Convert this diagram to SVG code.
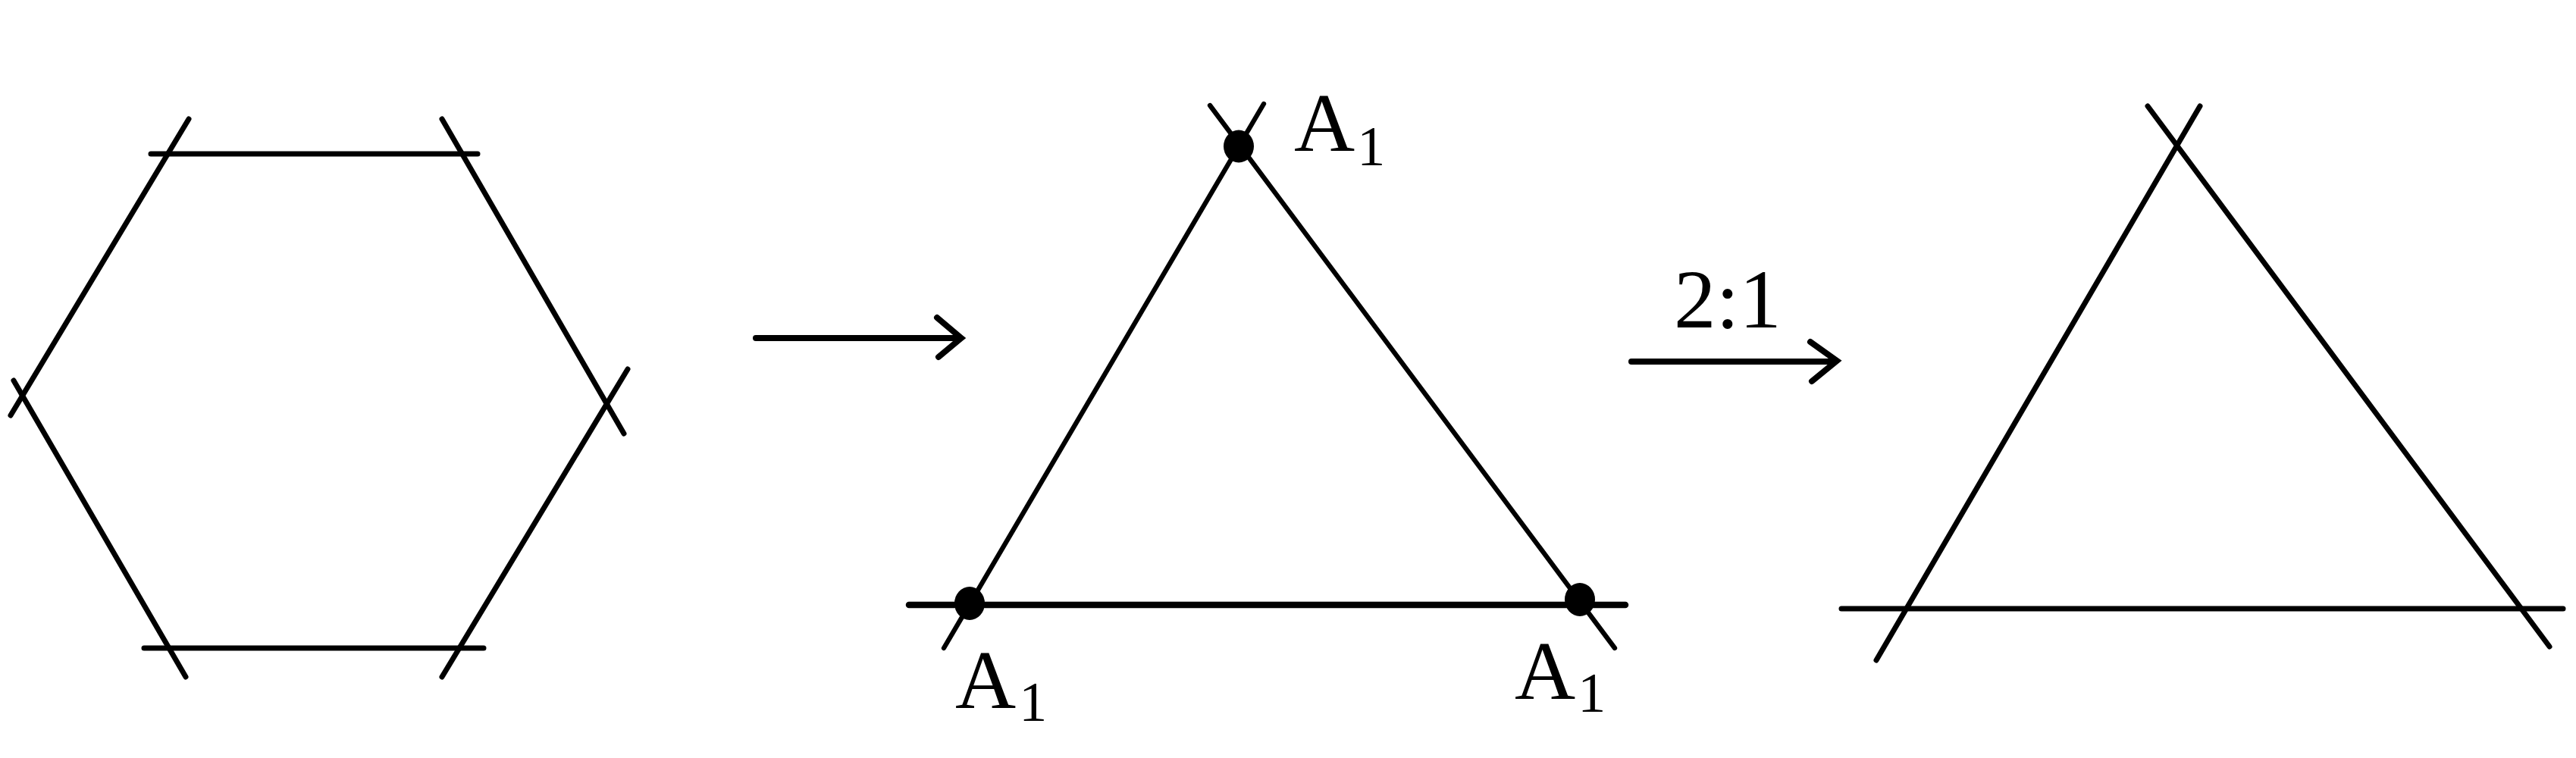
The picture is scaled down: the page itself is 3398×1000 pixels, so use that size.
<svg xmlns="http://www.w3.org/2000/svg" width="3398" height="1000" viewBox="0 0 3398 1000">
<style>
.ln{stroke:#000;stroke-width:7;stroke-linecap:round;fill:none}
.thin{stroke-width:6.3}
.thick{stroke-width:8.5}
.arw{stroke:#000;stroke-width:8;stroke-linecap:round;fill:none}
.dot{fill:#000}
.lbl{font-family:"Liberation Serif","Times New Roman",serif;font-size:111px;fill:#000}
.sub{font-size:74px}
</style>
<rect width="3398" height="1000" fill="#fff"/>
<g id="hexagon">
<line class="ln" x1="199" y1="203" x2="630" y2="203"/>
<line class="ln" x1="190" y1="855" x2="638" y2="855"/>
<line class="ln" x1="249" y1="157" x2="14" y2="548"/>
<line class="ln" x1="18" y1="502" x2="245" y2="893"/>
<line class="ln" x1="583" y1="157" x2="823" y2="572"/>
<line class="ln" x1="828" y1="487" x2="583" y2="893"/>
</g>
<g id="triangle-marked">
<line class="ln thin" x1="1667" y1="137" x2="1245" y2="855"/>
<line class="ln thin" x1="1596" y1="139" x2="2130" y2="855"/>
<line class="ln thick" x1="1199" y1="798" x2="2144" y2="798"/>
<ellipse class="dot" cx="1634" cy="193" rx="20" ry="21.5"/>
<ellipse class="dot" cx="1279" cy="796" rx="20" ry="22"/>
<ellipse class="dot" cx="2084" cy="791" rx="20" ry="22"/>
</g>
<g id="label-top">
<text class="lbl" x="1707" y="199">A<tspan class="sub" dx="3" dy="19">1</tspan></text>
</g>
<g id="label-bottom-left">
<text class="lbl" x="1260" y="934">A<tspan class="sub" dx="4" dy="17">1</tspan></text>
</g>
<g id="label-bottom-right">
<text class="lbl" x="1998" y="922">A<tspan class="sub" dx="3" dy="17">1</tspan></text>
</g>
<g id="triangle-extended">
<line class="ln" x1="2902" y1="140" x2="2475" y2="871"/>
<line class="ln" x1="2833" y1="140" x2="3363" y2="853"/>
<line class="ln" x1="2429" y1="803" x2="3381" y2="803"/>
</g>
<g id="connectors">
<g id="arrow1">
<line class="arw" x1="997" y1="446" x2="1262" y2="446"/>
<polyline class="arw" points="1236,419 1268,446 1238,471"/>
</g>
<g id="arrow2">
<line class="arw" x1="2152" y1="477" x2="2416" y2="477"/>
<polyline class="arw" points="2388,451 2423,476 2390,503"/>
<text class="lbl" x="2208" y="432">2:1</text>
</g>
</g>
</svg>
